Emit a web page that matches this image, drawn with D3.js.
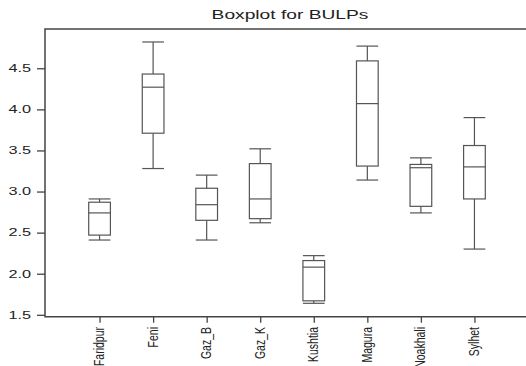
<!DOCTYPE html>
<html>
<head>
<meta charset="utf-8">
<script src="https://cdn.jsdelivr.net/npm/d3@7"></script>
<style>
  html, body { margin: 0; padding: 0; background: #fff; }
  svg { display: block; }
  text { font-family: "Liberation Sans", Arial, sans-serif; fill: #222; }
</style>
</head>
<body>
<svg id="chart" width="526" height="366"></svg>
<script>
const categories  = ["Faridpur", "Feni", "Gaz_B", "Gaz_K", "Kushtia", "Magura", "Noakhali", "Sylhet"];
const whiskerLow  = [2.41, 3.28, 2.41, 2.62, 1.64, 3.14, 2.74, 2.30];
const q1          = [2.47, 3.71, 2.65, 2.67, 1.67, 3.31, 2.82, 2.91];
const median      = [2.74, 4.27, 2.84, 2.91, 2.08, 4.07, 3.29, 3.30];
const q3          = [2.87, 4.43, 3.04, 3.34, 2.16, 4.59, 3.33, 3.56];
const whiskerHigh = [2.91, 4.82, 3.20, 3.52, 2.22, 4.77, 3.41, 3.90];
const yTicks      = [1.5, 2.0, 2.5, 3.0, 3.5, 4.0, 4.5];
const title       = "Boxplot for BULPs";

const rows = categories.map((c, i) => ({
  cat: c, lo: whiskerLow[i], q1: q1[i], med: median[i], q3: q3[i], hi: whiskerHigh[i]
}));

const svg = d3.select("#chart");
const mLeft = 45, mRight = 528, mTop = 29, mBottom = 316.7;
const SX = 1.55; // horizontal stretch of glyphs seen in the reference

const x = d3.scalePoint().domain(categories).range([46, 528]).padding(1);
const y = d3.scaleLinear().domain([1.477, 4.978]).range([mBottom, mTop]);
const boxW = 21.7;

// frame (left, top, bottom visible)
svg.append("path")
  .attr("d", `M${mRight + 5},${mTop}H${mLeft}V${mBottom}H${mRight + 5}`)
  .attr("fill", "none").attr("stroke", "#444").attr("stroke-width", 1.5);

// y axis
const yAxis = svg.append("g")
  .attr("transform", `translate(${mLeft},0)`)
  .call(d3.axisLeft(y).tickValues(yTicks).tickFormat(d3.format(".1f")).tickSize(8).tickPadding(1));
yAxis.select(".domain").remove();
yAxis.selectAll(".tick line").attr("stroke", "#444").attr("stroke-width", 1.3);
yAxis.selectAll(".tick text")
  .attr("transform", `scale(${SX},1)`)
  .style("font-family", "'Liberation Sans', Arial, sans-serif")
  .style("font-size", "10.5px").attr("fill", "#222");

// x axis
const xAxis = svg.append("g")
  .attr("transform", `translate(0,${mBottom})`)
  .call(d3.axisBottom(x).tickSize(6));
xAxis.select(".domain").remove();
xAxis.selectAll(".tick line").attr("stroke", "#444").attr("stroke-width", 1.3);
xAxis.selectAll(".tick text")
  .attr("x", 0).attr("y", 0).attr("dy", 0)
  .attr("text-anchor", "end")
  .attr("transform", `translate(4,10.3) scale(1.45,1) rotate(-90)`)
  .style("font-family", "'Liberation Sans', Arial, sans-serif")
  .style("font-size", "10.5px").attr("fill", "#222");

// boxes
const g = svg.append("g").selectAll("g.box").data(rows).join("g").attr("class", "box");
const stroke = "#555", sw = 1.2;
g.append("line")
  .attr("x1", d => x(d.cat)).attr("x2", d => x(d.cat))
  .attr("y1", d => y(d.hi)).attr("y2", d => y(d.q3))
  .attr("stroke", stroke).attr("stroke-width", sw);
g.append("line")
  .attr("x1", d => x(d.cat)).attr("x2", d => x(d.cat))
  .attr("y1", d => y(d.q1)).attr("y2", d => y(d.lo))
  .attr("stroke", stroke).attr("stroke-width", sw);
g.append("line")
  .attr("x1", d => x(d.cat) - boxW / 2).attr("x2", d => x(d.cat) + boxW / 2)
  .attr("y1", d => y(d.hi)).attr("y2", d => y(d.hi))
  .attr("stroke", stroke).attr("stroke-width", sw);
g.append("line")
  .attr("x1", d => x(d.cat) - boxW / 2).attr("x2", d => x(d.cat) + boxW / 2)
  .attr("y1", d => y(d.lo)).attr("y2", d => y(d.lo))
  .attr("stroke", stroke).attr("stroke-width", sw);
g.append("rect")
  .attr("x", d => x(d.cat) - boxW / 2).attr("width", boxW)
  .attr("y", d => y(d.q3)).attr("height", d => y(d.q1) - y(d.q3))
  .attr("fill", "#fff").attr("stroke", stroke).attr("stroke-width", sw);
g.append("line")
  .attr("x1", d => x(d.cat) - boxW / 2).attr("x2", d => x(d.cat) + boxW / 2)
  .attr("y1", d => y(d.med)).attr("y2", d => y(d.med))
  .attr("stroke", stroke).attr("stroke-width", sw);

// title
svg.append("text")
  .attr("transform", `translate(290,18.5) scale(1.6,1)`)
  .attr("text-anchor", "middle")
  .style("font-size", "12px").attr("fill", "#222")
  .text(title);
</script>
</body>
</html>
